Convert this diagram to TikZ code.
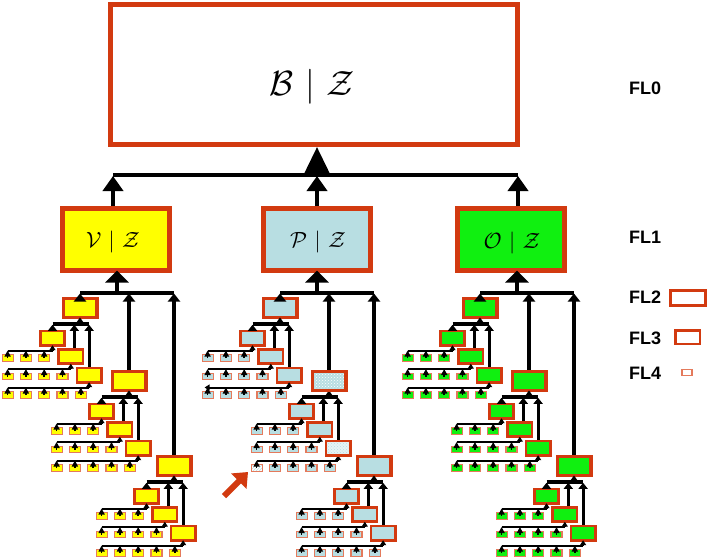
\documentclass[tikz,border=0pt]{standalone}
\usepackage{fontspec}
\newfontfamily\legfont{Liberation Sans}
\usetikzlibrary{arrows.meta,patterns}
\definecolor{bord}{RGB}{210,58,16}
\definecolor{fourb}{RGB}{228,122,92}
\definecolor{yel}{RGB}{255,255,0}
\definecolor{lbl}{RGB}{184,222,226}
\definecolor{grn}{RGB}{16,240,16}
\tikzset{
  fl0box/.style={draw=bord, line width=5pt, minimum width=407pt, minimum height=140pt, inner sep=0pt},
  fl1box/.style={draw=bord, line width=5pt, minimum width=107pt, minimum height=62pt, inner sep=0pt},
  fl2box/.style={draw=bord, line width=3.2pt, minimum width=33.8pt, minimum height=18.8pt, inner sep=0pt},
  fl3box/.style={draw=bord, line width=2.6pt, minimum width=24.4pt, minimum height=14.4pt, inner sep=0pt},
  fl4box/.style={draw=fourb, line width=1.1pt, minimum width=11pt, minimum height=6.5pt, inner sep=0pt},
  legtxt/.style={font=\legfont\bfseries\fontsize{18}{20}\selectfont, inner sep=0pt},
  bigmath/.style={inner sep=0pt, scale=3.5},
  midmath/.style={inner sep=0pt, scale=2.2},
  busA/.style={line width=4pt},
  busB/.style={line width=4pt},
  busC/.style={line width=3.2pt},
  busD/.style={line width=2pt},
  arrA/.style={line width=4pt, -{Triangle[width=25pt,length=27pt]}},
  arrB/.style={line width=4pt, shorten >=1.5pt, -{Triangle[width=20pt,length=15pt]}},
  arrBb/.style={line width=4pt, shorten >=-2.5pt, -{Triangle[width=23pt,length=12pt]}},
  arrC/.style={line width=4pt, shorten >=1pt, -{Triangle[width=12pt,length=8pt]}},
  arrCb/.style={line width=3pt, shorten >=-1.6pt, -{Triangle[width=8pt,length=6pt]}},
  arrD/.style={line width=3pt, shorten >=0.8pt, -{Triangle[width=9pt,length=6pt]}},
  arrDb/.style={line width=2pt, shorten >=-1.3pt, -{Triangle[width=6pt,length=5pt]}},
  arrE/.style={line width=1.5pt, -{Triangle[width=6pt,length=6pt]}},
}
\begin{document}
\begin{tikzpicture}[x=1pt,y=-1pt]
\useasboundingbox (0,0) rectangle (708,559);
% FL0
\node[fl0box] (b) at (314,74.5) {};
\node[bigmath] (btxt) at (312,87) {$\mathcal{B}\mkern1mu\mid\mkern1mu\mathcal{Z}$};
\coordinate (t1) at (113,174.5);
\coordinate (t2) at (317,174.5);
\coordinate (t3) at (518,174.5);
\draw[busA] (t1) -- (t3);
\draw[arrA] (t2) -- (t2 |- b.south);
% groups
\foreach \g/\a/\fc/\bx/\tx in {1/117/yel/116/113,2/317/lbl/316.5/317,3/517/grn/511/518}{
  \node[fl1box, fill=\fc] (f1-\g) at (\bx,239.5) {};
  \coordinate (m\g) at (\a,292.5);
  \coordinate (u\g) at (\tx,174.5);
  \draw[arrB] (f1-\g.north -| u\g) -- (u\g);
  \draw[arrBb] (m\g) -- (f1-\g.south -| m\g);
  \foreach \i/\dx/\y in {0/-37/308,1/12/381,2/57/466}{
    \pgfmathsetmacro\xa{\a+\dx}
    \node[fl2box, fill=\fc] (f2-\g-\i) at (\xa,\y) {};
    \coordinate (n\g-\i) at (\xa,\y+16);
    \foreach \j in {0,1,2}{
      \pgfmathsetmacro\xb{\xa-27.5+18.3*\j}
      \pgfmathsetmacro\yb{\y+30+18.5*\j}
      \node[fl3box, fill=\fc] (f3-\g-\i-\j) at (\xb,\yb) {};
      \coordinate (q\g-\i-\j) at (\xb,\yb+12.5);
      \pgfmathtruncatemacro\nn{3+\j}
      \foreach \k in {1,...,\nn}{
        \pgfmathsetmacro\xc{\xb-8.3-18.3*(\nn-\k)}
        \node[fl4box, fill=\fc] (f4-\g-\i-\j-\k) at (\xc,\yb+20) {};
      }
      \draw[busD] (f4-\g-\i-\j-1.center |- q\g-\i-\j) -- (q\g-\i-\j);
      \draw[arrDb] (q\g-\i-\j) -- (f3-\g-\i-\j.south);
    }
    \draw[busC] (f3-\g-\i-0.center |- n\g-\i) -- (f3-\g-\i-2.center |- n\g-\i);
    \draw[arrCb] (n\g-\i) -- (f2-\g-\i.south);
    \draw[arrD] (f3-\g-\i-0.north) -- (f3-\g-\i-0.north |- n\g-\i);
    \draw[arrD] ([xshift=3.5pt]f3-\g-\i-1.north) -- ([xshift=3.5pt]f3-\g-\i-1.north |- n\g-\i);
    \draw[arrD] (f3-\g-\i-2.north) -- (f3-\g-\i-2.north |- n\g-\i);
  }
  \draw[busB] (f2-\g-0.center |- m\g) -- (f2-\g-2.center |- m\g);
  \draw[arrC] (f2-\g-0.north) -- (f2-\g-0.north |- m\g);
  \draw[arrC] (f2-\g-1.north) -- (f2-\g-1.north |- m\g);
  \draw[arrC] (f2-\g-2.north) -- (f2-\g-2.north |- m\g);
}
% textured boxes in the middle group
\node[fl2box, preaction={fill=lbl}, pattern=crosshatch dots, pattern color=white] (h2) at (f2-2-1) {};
\node[fl3box, preaction={fill=lbl!35}, pattern=crosshatch dots, pattern color=lbl] (h3) at (f3-2-1-2) {};
\node[fl4box, preaction={fill=white}, pattern=north east lines, pattern color=lbl] (h4) at (f4-2-1-2-1) {};
% FL4 arrows (drawn on top of the small boxes)
\foreach \g in {1,2,3}{
  \foreach \i in {0,1,2}{
    \foreach \j in {0,1,2}{
      \pgfmathtruncatemacro\nn{3+\j}
      \foreach \k in {1,...,\nn}{
        \draw[arrE] (f4-\g-\i-\j-\k.center) -- (f4-\g-\i-\j-\k.center |- q\g-\i-\j);
      }
    }
  }
}
% left-pointing tip on one row of the middle group
\coordinate (lt) at ([xshift=-3pt]f4-2-0-2-1.center |- q2-0-2);
\draw[busD, -{Triangle[width=6pt,length=5pt]}] (f4-2-0-2-1.center |- q2-0-2) -- (lt);
% FL1 labels
\node[midmath] (vtxt) at (113,242) {$\mathcal{V}\mkern1mu\mid\mkern1mu\mathcal{Z}$};
\node[midmath] (ptxt) at (318,242) {$\mathcal{P}\mkern1mu\mid\mkern1mu\mathcal{Z}$};
\node[midmath] (otxt) at (512,243) {$\mathcal{O}\mkern1mu\mid\mkern1mu\mathcal{Z}$};
% red pointer
\coordinate (ra1) at (224,496);
\coordinate (ra2) at (248,472);
\draw[bord, line width=6pt, -{Triangle[width=21pt,length=13pt]}] (ra1) -- (ra2);
% legend
\node[legtxt] (l0) at (645,88) {FL0};
\node[legtxt] (l1) at (645,237) {FL1};
\node[legtxt] (l2) at (645,297) {FL2};
\node[legtxt] (l3) at (645,338) {FL3};
\node[legtxt] (l4) at (645,373) {FL4};
\node[fl2box, line width=3pt, minimum width=35pt, minimum height=15pt] (lb2) at (688,298) {};
\node[fl3box, line width=2.5pt, minimum width=24.5pt, minimum height=13.5pt] (lb3) at (687.5,337) {};
\node[fl4box, minimum width=10pt, minimum height=6pt] (lb4) at (687,372.5) {};
\end{tikzpicture}
\end{document}
